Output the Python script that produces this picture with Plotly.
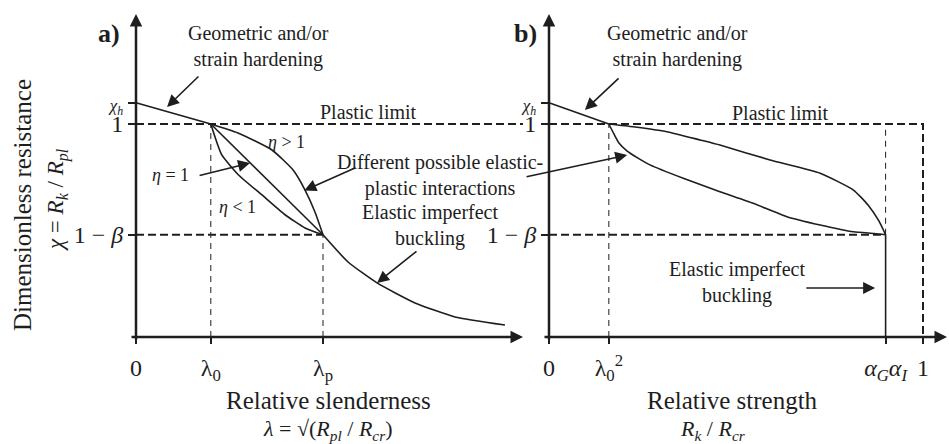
import plotly.graph_objects as go

W, H = 949, 444
INK = "#1e1e1e"
FONT = "Liberation Serif"

# ---- characteristic values (dimensionless) ----
LAMBDA_0 = 0.40      # squash-limit relative slenderness
LAMBDA_P = 1.00      # plastic-limit relative slenderness
CHI_H = 1.10         # hardening resistance at zero slenderness
BETA = 0.52          # plastic range factor -> 1 - beta = 0.48
ALPHA_GI = 0.90      # alpha_G * alpha_I (elastic imperfect buckling strength)
CHI_PL = 1.0         # plastic limit
CHI_EL = 1.0 - BETA

# ---- panel a) resistance vs relative slenderness ----
eta_gt1_lam = [0.400, 0.545, 0.727, 0.840, 0.904, 0.957, 1.000]
eta_gt1_chi = [1.000, 0.958, 0.878, 0.784, 0.690, 0.587, 0.480]
eta_lt1_lam = [0.400, 0.458, 0.547, 0.672, 0.797, 0.904, 1.000]
eta_lt1_chi = [1.000, 0.856, 0.762, 0.668, 0.574, 0.512, 0.480]
elastic_lam = [1.000, 1.134, 1.289, 1.492, 1.706, 1.973]
elastic_chi = [0.480, 0.352, 0.254, 0.160, 0.094, 0.056]

# ---- panel b) resistance vs relative strength ----
upper_b_r = [0.160, 0.225, 0.315, 0.404, 0.457, 0.591, 0.725, 0.814, 0.853, 0.882, 0.900]
upper_b_chi = [1.000, 0.987, 0.964, 0.925, 0.901, 0.831, 0.769, 0.690, 0.620, 0.545, 0.480]
lower_b_r = [0.160, 0.174, 0.187, 0.209, 0.238, 0.270, 0.359, 0.457, 0.546, 0.636, 0.725, 0.814, 0.870, 0.900]
lower_b_chi = [1.000, 0.952, 0.911, 0.873, 0.840, 0.808, 0.745, 0.682, 0.628, 0.565, 0.526, 0.494, 0.486, 0.480]

# ---- pixel layout of the two coordinate systems ----
A_X0, A_SX = 136, 187     # panel a origin (px) and px per unit
B_X0, B_SX = 549, 374     # panel b origin (px) and px per unit
Y0, SY = 337, 213         # common baseline (px) and px per unit
A_X_END = (523 - A_X0) / A_SX   # tip of panel a abscissa
B_X_END = (947 - B_X0) / B_SX   # tip of panel b abscissa
Y_END = (Y0 - 14) / SY          # tip of the ordinates


def paper(xp, yp):
    return xp / W, 1 - yp / H


fig = go.Figure()


def curve(xs, ys, panel="a", width=1.6, dash=None, shape="linear"):
    fig.add_trace(go.Scatter(
        x=xs, y=ys, mode="lines",
        xaxis="x" if panel == "a" else "x2",
        yaxis="y" if panel == "a" else "y2",
        line=dict(color=INK, width=width, dash=dash, shape=shape, smoothing=0.5),
        hoverinfo="skip", showlegend=False))


THICK_DASH = "8px,4px"
THIN_DASH = "6px,5px"

# panel a reference lines
curve([0, A_X_END], [CHI_PL, CHI_PL], "a", 2, THICK_DASH)
curve([0, LAMBDA_P], [CHI_EL, CHI_EL], "a", 2, THICK_DASH)
curve([LAMBDA_0, LAMBDA_0], [0, CHI_PL], "a", 1, THIN_DASH)
curve([LAMBDA_P, LAMBDA_P], [0, CHI_EL], "a", 1, THIN_DASH)

# panel a curves
curve([0, LAMBDA_0], [CHI_H, CHI_PL], "a")
curve(eta_gt1_lam, eta_gt1_chi, "a", shape="spline")
curve([LAMBDA_0, LAMBDA_P], [CHI_PL, CHI_EL], "a")
curve(eta_lt1_lam, eta_lt1_chi, "a", shape="spline")
curve(elastic_lam, elastic_chi, "a", shape="spline")

# panel b reference lines
curve([0, 1, 1], [CHI_PL, CHI_PL, 0], "b", 2, THICK_DASH)
curve([0, ALPHA_GI], [CHI_EL, CHI_EL], "b", 2, THICK_DASH)
curve([LAMBDA_0 ** 2, LAMBDA_0 ** 2], [0, CHI_PL], "b", 1, THIN_DASH)
curve([ALPHA_GI, ALPHA_GI], [CHI_EL, CHI_PL], "b", 1, THIN_DASH)

# panel b curves
curve([0, LAMBDA_0 ** 2], [CHI_H, CHI_PL], "b")
curve(upper_b_r, upper_b_chi, "b", shape="spline")
curve(lower_b_r, lower_b_chi, "b", shape="spline")
curve([ALPHA_GI, ALPHA_GI], [CHI_EL, 0], "b")

annotations = []


def arrow(panel, head, tail, width=1.6, size=1.5):
    xr, yr = ("x", "y") if panel == "a" else ("x2", "y2")
    annotations.append(dict(
        x=head[0], y=head[1], ax=tail[0], ay=tail[1],
        xref=xr, yref=yr, axref=xr, ayref=yr, text="",
        showarrow=True, arrowhead=2, arrowsize=size, arrowwidth=width,
        arrowcolor=INK, standoff=0))


def label(text, xp, yp, size=20, angle=0, bold=False):
    px_, py_ = paper(xp, yp)
    annotations.append(dict(
        x=px_, y=py_, xref="paper", yref="paper",
        text=f"<b>{text}</b>" if bold else text,
        showarrow=False, xanchor="center", yanchor="middle", textangle=angle,
        font=dict(family=FONT, size=size, color=INK)))


# axis lines with arrow tips
arrow("a", (0, Y_END), (0, -4 / SY), width=2.5, size=1.0)
arrow("a", (A_X_END, 0), (-6 / A_SX, 0), width=2.5, size=1.0)
arrow("b", (0, Y_END), (0, -4 / SY), width=2.5, size=1.0)
arrow("b", (B_X_END, 0), (-6 / B_SX, 0), width=2.5, size=1.0)

# pointers
arrow("a", (0.166, 1.080), (0.342, 1.230))
arrow("a", (0.610, 0.817), (0.332, 0.756))
arrow("a", (0.900, 0.688), (1.182, 0.798))
arrow("a", (1.289, 0.254), (1.508, 0.408))
arrow("b", (0.096, 1.066), (0.190, 1.221))
arrow("b", (0.209, 0.854), (-0.064, 0.751))
arrow("b", (0.872, 0.230), (0.684, 0.230))

# texts
label("a)", 109, 33, 26, bold=True)
label("b)", 525, 33, 26, bold=True)
label("Geometric and/or<br>strain hardening", 258, 46)
label("Geometric and/or<br>strain hardening", 677, 46)
label("Plastic limit", 368, 112)
label("Plastic limit", 780, 113)
label("<i>η</i> &gt; 1", 286, 142, 18)
label("<i>η</i> = 1", 170, 175, 18)
label("<i>η</i> &lt; 1", 237, 207, 18)
label("Different possible elastic-<br>plastic interactions", 440, 175)
label("Elastic imperfect<br>buckling", 430, 225)
label("Elastic imperfect<br>buckling", 737, 282)

label("Dimensionless resistance", 22, 205, 25, angle=-90)
label("<i>χ</i> = <i>R<sub>k</sub></i> / <i>R<sub>pl</sub></i>", 57, 200, 23, angle=-90)
label("Relative slenderness", 328, 400, 25)
label("<i>λ</i> = √(<i>R<sub>pl</sub></i> / <i>R<sub>cr</sub></i>)", 328, 430, 22)
label("Relative strength", 732, 400, 25)
label("<i>R<sub>k</sub></i> / <i>R<sub>cr</sub></i>", 713, 430, 22)

tick_font = dict(family=FONT, size=24, color=INK)
small = '<span style="font-size:17px"><i>χ<sub>h</sub></i></span>'

x_common = dict(domain=[0, 1], anchor="free", position=1 - Y0 / H,
                showgrid=False, zeroline=False, showline=False,
                ticks="outside", ticklen=6, tickwidth=2, tickcolor=INK,
                tickfont=tick_font, ticklabelstandoff=3, automargin=False)
y_common = dict(domain=[0, 1], range=[-(H - Y0) / SY, Y0 / SY], anchor="free",
                showgrid=False, zeroline=False, showline=False,
                ticks="outside", ticklen=8, tickwidth=2, tickcolor=INK,
                tickfont=tick_font, automargin=False,
                tickvals=[CHI_EL, CHI_PL, CHI_H],
                ticktext=["1 − <i>β</i>", "1", small])

fig.update_layout(
    width=W, height=H, template="none",
    margin=dict(l=0, r=0, t=0, b=0),
    paper_bgcolor="white", plot_bgcolor="white",
    xaxis=dict(range=[-A_X0 / A_SX, (W - A_X0) / A_SX],
               tickvals=[0, LAMBDA_0, LAMBDA_P],
               ticktext=["0", "λ<sub>0</sub>", "λ<sub>p</sub>"], **x_common),
    xaxis2=dict(range=[-B_X0 / B_SX, (W - B_X0) / B_SX], overlaying="x",
                tickvals=[0, LAMBDA_0 ** 2, ALPHA_GI, 1],
                ticktext=["0", "λ<sub>0</sub><sup>2</sup>",
                          "<i>α<sub>G</sub>α<sub>I</sub></i>", "1"], **x_common),
    yaxis=dict(position=A_X0 / W, **y_common),
    yaxis2=dict(position=B_X0 / W, overlaying="y", **y_common),
    annotations=annotations,
    showlegend=False,
)

fig.write_html("out.html")
